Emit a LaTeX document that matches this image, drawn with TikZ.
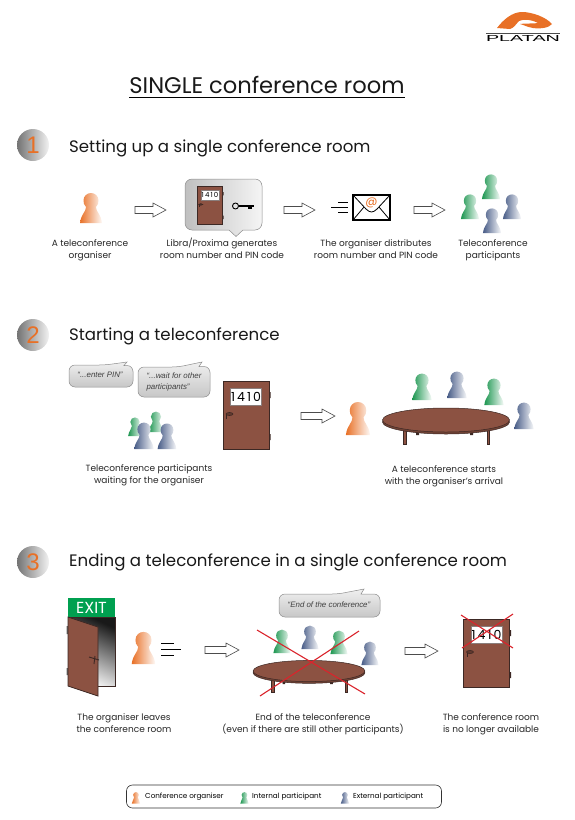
\documentclass[tikz,border=0pt]{standalone}
\usepackage{fontspec}
\setmainfont{Poppins}
\newfontfamily\bubblefont{Liberation Sans}
\usepackage{xcolor}
\usetikzlibrary{calc, positioning}
\definecolor{organiser}{RGB}{232,112,38}
\definecolor{internal}{RGB}{28,150,80}
\definecolor{external}{RGB}{72,92,135}
\definecolor{doorbrown}{RGB}{140,82,66}
\definecolor{doorline}{RGB}{60,40,36}
\definecolor{crossred}{RGB}{218,36,44}
\definecolor{exitgreen}{RGB}{0,160,80}
\tikzset{
  pics/person/.style={code={
    \shade[left color=#1, middle color=#1, right color=#1!4]
      (-11,0) .. controls (-10,-9) and (-5,-11) .. (-5,-16)
      .. controls (-7,-18) and (-7.5,-20) .. (-7.5,-22.5)
      .. controls (-7.5,-27) and (-4,-30) .. (0,-30)
      .. controls (4,-30) and (7.5,-27) .. (7.5,-22.5)
      .. controls (7.5,-20) and (7,-18) .. (5,-16)
      .. controls (5,-11) and (10,-9) .. (11,0) -- cycle;
  }},
  pics/roomdoor/.style={code={
    \draw[fill=doorline, draw=none] (23,-23) rectangle (24.5,-17) (23,19) rectangle (24.5,25);
    \draw[fill=doorbrown, draw=doorline, line width=0.8pt] (-23,-34) rectangle (23,34);
    \node[fill=white, draw=doorline!60, line width=0.3pt, inner sep=0pt, minimum width=31pt, minimum height=17pt,
          font=\fontsize{12.5}{12}\selectfont, transform shape] (sign) at (0,-18) {1\,4\,1\,0};
    \draw[doorline, line width=0.8pt] (-19.5,-1) -- (-19.5,4);
    \draw[fill=doorbrown!70!black, draw=doorline, line width=0.6pt] (-16.5,-1) ellipse (3.5 and 1.5);
  }},
  pics/roundtable/.style={code={
    \fill[doorline] (-30,10) rectangle (-27,15) (24,10) rectangle (27,15);
    \draw[fill=doorbrown, draw=doorline, line width=0.5pt] (-42.5,8) rectangle (-40,24) (41,8) rectangle (43.5,24);
    \draw[fill=doorbrown!80!black, draw=doorline, line width=0.5pt] (0,2) ellipse (63.5 and 12);
    \draw[fill=doorbrown, draw=doorline, line width=0.5pt] (0,0) ellipse (63.5 and 12);
  }}
}
\begin{document}
\begin{tikzpicture}[
  x=1pt, y=-1pt,
  caption/.style={align=center, font=\fontsize{9}{12}\selectfont, text=black!85, inner sep=0pt,
                  execute at begin node=\strut, execute at end node=\strut},
  heading/.style={anchor=base west, font=\fontsize{16.6}{20}\selectfont, text=black!90, inner sep=0pt},
  badge/.style={circle, minimum size=32pt, inner sep=0pt, left color=black!55, right color=black!5,
                text=organiser, font=\bubblefont\fontsize{24}{24}\selectfont},
  hollow/.style={draw=black!70, line width=0.6pt, fill=white,
                 to path={let \p1=(\tikztostart), \p2=(\tikztotarget) in
                   (\x1,\y1+3.5pt) -- (\x2-13pt,\y1+3.5pt) -- (\x2-13pt,\y1+7pt) -- (\x2,\y1)
                   -- (\x2-13pt,\y1-7pt) -- (\x2-13pt,\y1-3.5pt) -- (\x1,\y1-3.5pt) -- cycle}},
  talk/.style={draw=black!45, line width=0.5pt, top color=black!6, bottom color=black!22},
  talktext/.style={align=left, inner sep=0pt, font=\bubblefont\itshape\fontsize{7.9}{11}\selectfont, text=black!75},
  redcross/.style={draw=crossred, line width=1.1pt},
  speed/.style={draw=black, line width=0.7pt}
]
  \useasboundingbox (0,0) rectangle (575,820);

  % Logo
  \fill[organiser] (497,28) .. controls (503,20) and (512,12) .. (522,12)
    .. controls (532,12) and (546,17) .. (552,24) .. controls (549,28) and (540,29) .. (533,28)
    .. controls (527,27) and (524,25) .. (520,24) .. controls (526,23) and (533,24) .. (538,23)
    .. controls (530,19) and (524,19) .. (519,21) .. controls (516,24) and (514,28) .. (510,29) -- cycle;
  \draw[black!70, line width=0.5pt] (486,33) -- (560,33);
  \node[inner sep=0pt] (logo) at (523,38.5) {\resizebox{74pt}{6pt}{\bubblefont PLATAN}};

  % Title
  \node[anchor=base, inner sep=0pt, font=\fontsize{22.6}{24}\selectfont, text=black!90] (title) at (267,93) {SINGLE conference room};
  \draw[black, line width=0.7pt] (129,97) -- (405,97);

  % Step 1
  \node[badge] (one) at (33,145) {1};
  \node[heading] (head1) at (69,152.5) {Setting up a single conference room};
  \pic at (91,223) {person=organiser};
  \draw[draw=black!45, line width=0.5pt, left color=black!25, right color=black!4, rounded corners=7pt]
    (185,179) -- (262,179) -- (262,230) [sharp corners] -- (243,230) -- (236,236.5) -- (229,230)
    [rounded corners=7pt] -- (185,230) -- cycle;
  \pic[scale=0.56] at (210,205) {roomdoor};
  \draw[black, line width=0.9pt] (235.5,206) circle (3);
  \draw[black, line width=1.1pt] (238.5,206) -- (254,206);
  \fill[black] (248,206) rectangle (252,209);
  \draw[fill=white, draw=black, line width=1.2pt] (353,195) rectangle (390,220);
  \draw[black, line width=0.8pt] (353,195) -- (366,209) .. controls (370,213) and (373,213) .. (377,209) -- (390,195)
    (353,220) -- (364,207) (390,220) -- (379,207);
  \node[inner sep=0pt, text=organiser, font=\fontsize{12}{12}\selectfont] (mail) at (371.5,202.5) {@};
  \draw[speed] (338,202) -- (348,202) (331,207) -- (348,207) (338,212) -- (348,212);
  \pic[scale=0.82] at (491,199) {person=internal};
  \pic[scale=0.82] at (470,219) {person=internal};
  \pic[scale=0.82] at (512,219) {person=external};
  \pic[scale=0.82] at (492,233) {person=external};

  \coordinate (a1s) at (135,210); \coordinate (a1e) at (166,210);
  \coordinate (a2s) at (284,210); \coordinate (a2e) at (315,210);
  \coordinate (a3s) at (414,210); \coordinate (a3e) at (445,210);
  \draw[hollow] (a1s) to (a1e);
  \draw[hollow] (a2s) to (a2e);
  \draw[hollow] (a3s) to (a3e);

  \node[caption] (cap1a) at (90,250.5) {A teleconference\\organiser};
  \node[caption] (cap1b) at (222,250.5) {Libra/Proxima generates\\room number and PIN code};
  \node[caption] (cap1c) at (376,250.5) {The organiser distributes\\room number and PIN code};
  \node[caption] (cap1d) at (493,250.5) {Teleconference\\participants};

  % Step 2
  \node[badge] (two) at (33,335) {2};
  \node[heading] (head2) at (69,340.5) {Starting a teleconference};
  \draw[talk, rounded corners=6pt] (69,365) -- (105,365) [sharp corners] -- (127,362) -- (124,365.5)
    [rounded corners=6pt] -- (133,365.5) -- (133,387) -- (69,387) -- cycle;
  \node[talktext] (pin) at (100,374.5) {“...enter PIN”};
  \draw[talk, rounded corners=6pt] (138,367) -- (178,367) [sharp corners] -- (202,362) -- (199,366.5)
    [rounded corners=6pt] -- (210,366.5) -- (210,397) -- (138,397) -- cycle;
  \node[talktext] (wait) at (174,381.5) {“...wait for other\\participants”};
  \pic[scale=0.62] at (135,436) {person=internal};
  \pic[scale=0.68] at (156,432) {person=internal};
  \pic[scale=0.88] at (144,449) {person=external};
  \pic[scale=0.85] at (167,449) {person=external};
  \pic at (246,415) {roomdoor};
  \coordinate (b1s) at (301,416); \coordinate (b1e) at (335,416);
  \draw[hollow] (b1s) to (b1e);
  \pic[scale=1.1] at (358,435) {person=organiser};
  \pic[scale=0.88] at (422,400) {person=internal};
  \pic[scale=0.88] at (457,398) {person=external};
  \pic[scale=0.88] at (494,405) {person=internal};
  \pic[scale=0.88] at (524,429) {person=external};
  \pic at (446,420) {roundtable};
  \node[caption] (cap2a) at (149,475.5) {Teleconference participants\\waiting for the organiser};
  \node[caption] (cap2b) at (444,476.5) {A teleconference starts\\with the organiser's arrival};

  % Step 3
  \node[badge] (three) at (33,562) {3};
  \node[heading] (head3) at (69,566.5) {Ending a teleconference in a single conference room};
  \node[fill=exitgreen, text=white, inner sep=0pt, minimum width=47pt, minimum height=19pt,
        font=\fontsize{16}{16}\selectfont] (exit) at (91.5,607.5) {EXIT};
  \shade[top color=black!90, bottom color=white, shading angle=-25] (68,617) rectangle (115,686);
  \draw[doorline, line width=1pt] (68,617) -- (115,617) -- (115,686) -- (98,686);
  \fill[black!60] (66.5,626) rectangle (68,634) (66.5,668) rectangle (68,675);
  \draw[fill=doorbrown, draw=doorline, line width=0.8pt] (68,617) -- (98,627) -- (98,696) -- (68,686) -- cycle;
  \draw[doorline, line width=0.9pt] (89,657) -- (99,660) (95,656) -- (94,664);
  \pic[scale=1.07] at (143.5,664) {person=organiser};
  \draw[speed] (161,643) -- (174,643) (161,649) -- (181,649) (161,655) -- (174,655);
  \coordinate (c1s) at (205,650); \coordinate (c1e) at (239,650);
  \draw[hollow] (c1s) to (c1e);
  \draw[talk, rounded corners=6pt] (279,594) -- (338,594) [sharp corners] -- (364,589) -- (361,594)
    [rounded corners=6pt] -- (380,594) -- (380,617) -- (279,617) -- cycle;
  \node[talktext] (endtalk) at (329,605) {“End of the conference”};
  \pic[scale=0.78] at (282,653) {person=internal};
  \pic[scale=0.78] at (310,649) {person=external};
  \pic[scale=0.78] at (339,654) {person=internal};
  \pic[scale=0.78] at (370,665) {person=external};
  \pic[scale=0.88] at (309,671) {roundtable};
  \draw[redcross] (257,630) -- (365,694) (359,631) -- (260,696);
  \coordinate (c2s) at (405,651); \coordinate (c2e) at (438,651);
  \draw[hollow] (c2s) to (c2e);
  \pic at (486.5,653) {roomdoor};
  \draw[redcross] (461,615) -- (513,648) (513,614) -- (462,648);
  \node[caption] (cap3a) at (124,724.5) {The organiser leaves\\the conference room};
  \node[caption] (cap3b) at (313,724.5) {End of the teleconference\\(even if there are still other participants)};
  \node[caption] (cap3c) at (491,724.5) {The conference room\\is no longer available};

  % Legend
  \node[draw=black!80, line width=0.6pt, rounded corners=6pt, minimum width=315pt, minimum height=23pt, inner sep=0pt] (legend) at (284,796.5) {};
  \pic[scale=0.38] at (136,803.5) {person=organiser};
  \pic[scale=0.38] at (244.5,803.5) {person=internal};
  \pic[scale=0.38] at (345,803.5) {person=external};
  \node[anchor=west, inner sep=0pt, font=\fontsize{7.2}{9}\selectfont] (legorg) at (145,796.5) {Conference organiser};
  \node[anchor=west, inner sep=0pt, font=\fontsize{7.2}{9}\selectfont] (legint) at (252,796.5) {Internal participant};
  \node[anchor=west, inner sep=0pt, font=\fontsize{7.2}{9}\selectfont] (legext) at (353,796.5) {External participant};
\end{tikzpicture}
\end{document}
